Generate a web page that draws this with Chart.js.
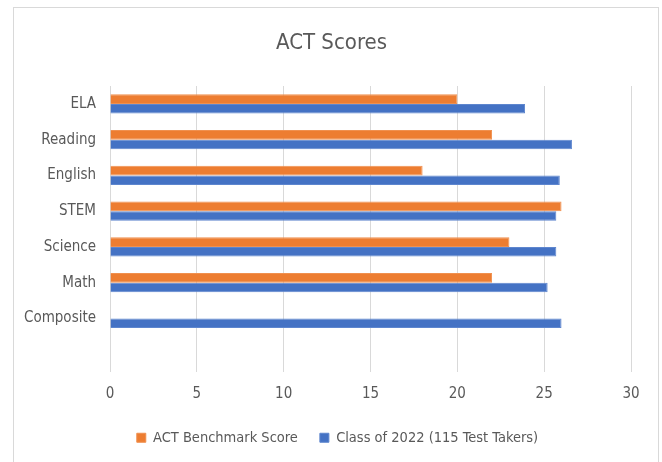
<!DOCTYPE html>
<html>
<head>
<meta charset="utf-8">
<script src="https://cdn.jsdelivr.net/npm/chart.js@4/dist/chart.umd.min.js"></script>
<style>
  html, body { margin: 0; padding: 0; background: #ffffff; }
  #wrap { position: relative; width: 662px; height: 462px; overflow: hidden; }
  #frame { position: absolute; left: 13px; top: 7px; width: 646px; height: 470px; border: 1px solid #d9d9d9; box-sizing: border-box; pointer-events: none; }
  canvas { position: absolute; left: 0; top: 0; }
</style>
</head>
<body>
<div id="wrap">
  <div id="frame"></div>
  <canvas id="c" width="662" height="462"></canvas>
</div>
<script>
const categories = ['ELA', 'Reading', 'English', 'STEM', 'Science', 'Math', 'Composite', ''];
const benchmarkScores = [20, 22, 18, 26, 23, 22, null, null];
const class2022Scores = [23.9, 26.6, 25.9, 25.7, 25.7, 25.2, 26, null];
const xTicks = [0, 5, 10, 15, 20, 25, 30];
const seriesNames = ['ACT Benchmark Score', 'Class of 2022 (115 Test Takers)'];
const titleText = 'ACT Scores';

const FONT = "'DejaVu Sans Condensed', 'Liberation Sans', sans-serif";
const TEXT = '#595959';

const shiftTitle = {
  id: 'shiftTitle',
  afterLayout(chart) {
    if (chart.titleBlock) { chart.titleBlock.left -= 6; chart.titleBlock.right -= 6; }
  }
};

new Chart(document.getElementById('c'), {
  type: 'bar',
  data: {
    labels: categories,
    datasets: [
      { label: seriesNames[0], data: benchmarkScores, backgroundColor: '#ED7D31', borderColor: '#F0904F', borderWidth: 1, categoryPercentage: 0.54, barPercentage: 1.0 },
      { label: seriesNames[1], data: class2022Scores, backgroundColor: '#4472C4', borderColor: '#5E86CE', borderWidth: 1, categoryPercentage: 0.54, barPercentage: 1.0 }
    ]
  },
  plugins: [shiftTitle],
  options: {
    indexAxis: 'y',
    responsive: false,
    animation: false,
    devicePixelRatio: 1,
    layout: { padding: { left: 13, right: 0, top: 0, bottom: 7 } },
    plugins: {
      title: {
        display: true, text: titleText, color: TEXT,
        font: { family: FONT, size: 22, weight: 'normal' },
        padding: { top: 30, bottom: 29.6 }
      },
      legend: {
        position: 'bottom',
        labels: {
          color: TEXT, boxWidth: 9, boxHeight: 9, padding: 22,
          font: { family: FONT, size: 14.5 }
        }
      },
      tooltip: { enabled: false }
    },
    scales: {
      x: {
        type: 'linear', min: 0, max: 30,
        afterBuildTicks: s => { s.ticks = xTicks.map(v => ({ value: v })); },
        grid: { color: '#d9d9d9', lineWidth: 1, drawTicks: false },
        border: { display: false },
        ticks: { color: TEXT, padding: 13, font: { family: FONT, size: 15 } },
        afterFit: s => { s.height = 36.5; }
      },
      y: {
        type: 'category',
        grid: { display: false, drawTicks: false },
        border: { display: false },
        ticks: { color: TEXT, padding: 14, font: { family: FONT, size: 15 } },
        afterFit: s => { s.width = 97; }
      },
      yRight: {
        type: 'category', position: 'right',
        grid: { display: false, drawTicks: false },
        border: { display: false },
        ticks: { display: false },
        afterFit: s => { s.width = 31; }
      }
    }
  }
});
</script>
</body>
</html>
